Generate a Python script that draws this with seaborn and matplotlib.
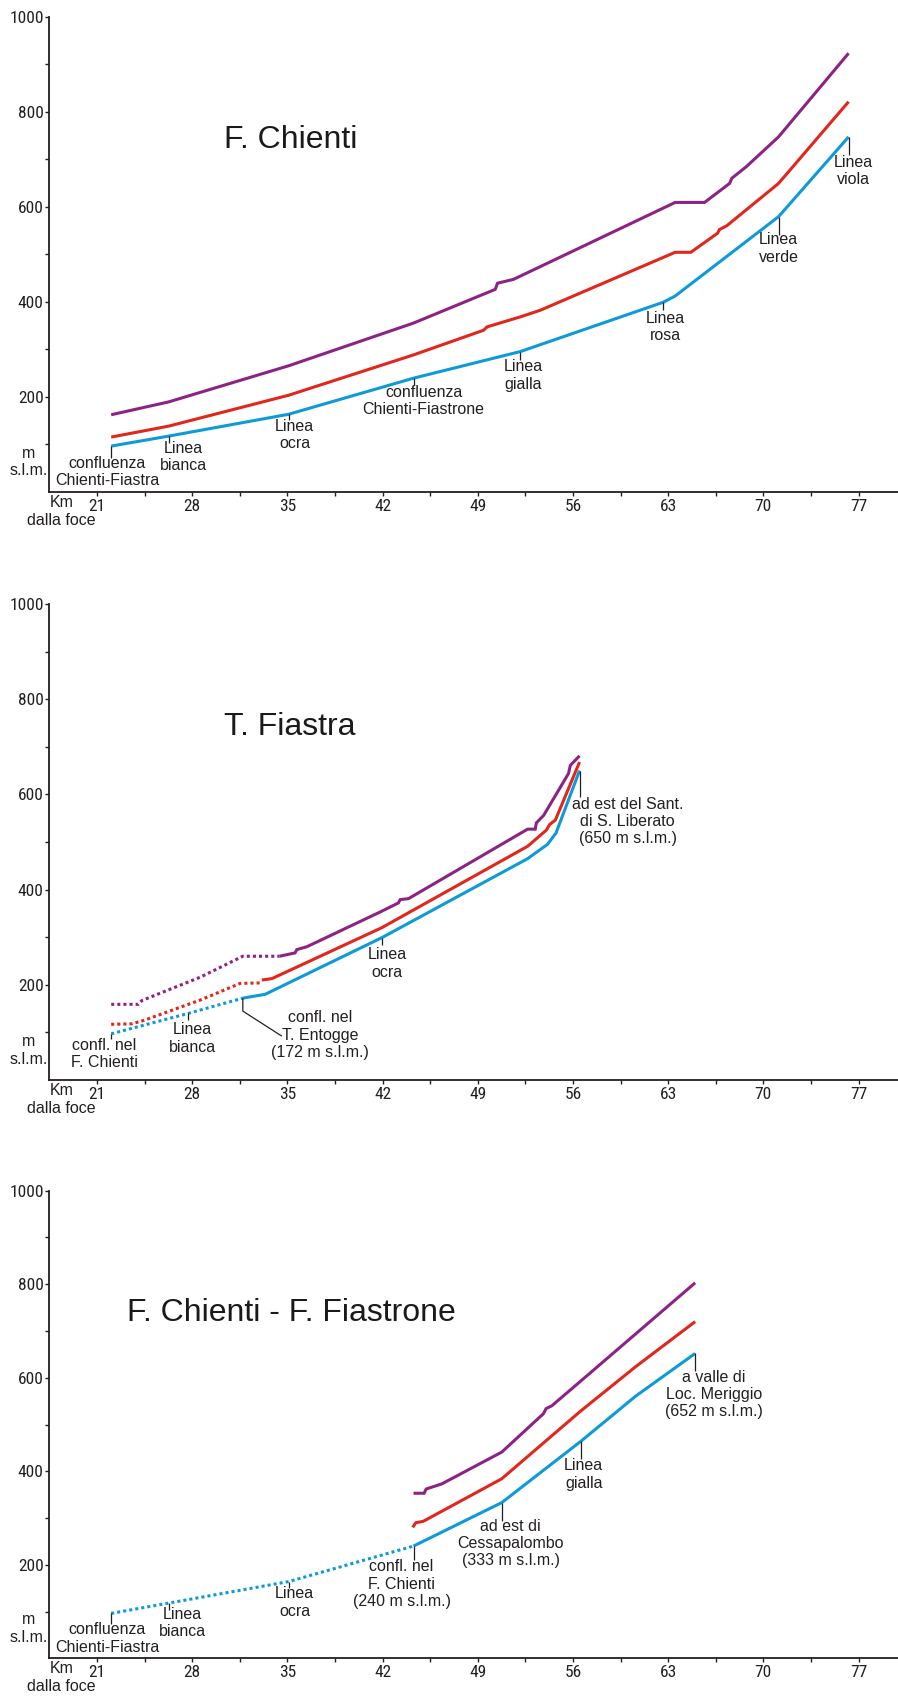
import numpy as np
import matplotlib
matplotlib.use("Agg")
import matplotlib.pyplot as plt
import seaborn as sns
from matplotlib import font_manager

# ---------------- dati ----------------
# km dalla foce / quota (m s.l.m.)
# F. Chienti
ch_viola_x = [22.05, 26.27, 35.09, 44.28, 50.29, 50.46, 51.63, 63.52, 65.68, 67.52, 67.69, 68.74, 71.12, 76.27]
ch_viola_y = [162, 189, 265, 355, 426, 439, 447, 609, 609, 649, 660, 684, 747, 923]
ch_rosso_x = [22.05, 26.27, 35.09, 44.28, 49.44, 49.69, 52.13, 53.6, 63.52, 64.67, 66.63, 66.78, 67.32, 71.12, 76.27]
ch_rosso_y = [115, 138, 203, 288, 340, 347, 368, 382, 504, 504, 544, 552, 560, 649, 821]
ch_blu_x = [22.05, 26.27, 35.09, 44.28, 52.13, 62.66, 63.52, 71.12, 76.27]
ch_blu_y = [96, 117, 163, 239, 295, 399, 412, 579, 747]

# T. Fiastra (tratto punteggiato + tratto continuo)
fi_viola_dot_x = [22.05, 24.06, 24.31, 28.6, 31.73, 34.43]
fi_viola_dot_y = [159, 159, 167, 216, 260, 260]
fi_viola_x = [34.43, 35.57, 35.7, 36.44, 41.83, 43.17, 43.3, 43.91, 52.67, 53.23, 53.31, 53.85, 55.68, 55.81, 56.49]
fi_viola_y = [260, 267, 274, 280, 353, 372, 379, 381, 527, 527, 540, 556, 644, 661, 681]
fi_rosso_dot_x = [22.05, 23.57, 24.43, 28.6, 31.54, 33.13]
fi_rosso_dot_y = [117, 118, 125, 168, 203, 204]
fi_rosso_x = [33.13, 33.87, 41.95, 52.67, 54.05, 54.3, 54.71, 56.49]
fi_rosso_y = [210, 213, 320, 491, 525, 537, 546, 668]
fi_blu_dot_x = [22.05, 27.73, 31.73]
fi_blu_dot_y = [97, 140, 172]
fi_blu_x = [31.73, 33.37, 41.95, 52.67, 54.13, 54.76, 56.49]
fi_blu_y = [172, 180, 299, 465, 495, 519, 650]

# F. Chienti - F. Fiastrone
fs_viola_x = [44.28, 45.06, 45.21, 46.36, 50.77, 53.83, 54.03, 54.45, 56.58, 64.99]
fs_viola_y = [353, 353, 362, 373, 441, 523, 534, 540, 593, 803]
fs_rosso_x = [44.22, 44.45, 45.0, 50.77, 56.58, 60.63, 64.99]
fs_rosso_y = [280, 290, 293, 384, 529, 624, 720]
fs_blu_dot_x = [22.05, 26.27, 35.09, 44.28]
fs_blu_dot_y = [96, 118, 164, 240]
fs_blu_x = [44.28, 50.77, 56.58, 60.63, 64.99]
fs_blu_y = [240, 333, 464, 561, 652]

titoli = ["F. Chienti", "T. Fiastra", "F. Chienti - F. Fiastrone"]

ch_note = ["confluenza\nChienti-Fiastra", "Linea\nbianca", "Linea\nocra", "confluenza\nChienti-Fiastrone",
           "Linea\ngialla", "Linea\nrosa", "Linea\nverde", "Linea\nviola"]
ch_note_km = [22.05, 26.27, 35.09, 44.28, 52.13, 62.66, 71.12, 76.27]
fi_note = ["confl. nel\nF. Chienti", "Linea\nbianca", "confl. nel\nT. Entogge\n(172 m s.l.m.)", "Linea\nocra",
           "ad est del Sant.\ndi S. Liberato\n(650 m s.l.m.)"]
fi_note_km = [22.05, 27.73, 31.73, 41.95, 56.49]
fs_note = ["confluenza\nChienti-Fiastra", "Linea\nbianca", "Linea\nocra", "confl. nel\nF. Chienti\n(240 m s.l.m.)",
           "ad est di\nCessapalombo\n(333 m s.l.m.)", "Linea\ngialla", "a valle di\nLoc. Meriggio\n(652 m s.l.m.)"]
fs_note_km = [22.05, 26.27, 35.09, 44.28, 50.77, 56.58, 64.99]

km_ticks = [21, 28, 35, 42, 49, 56, 63, 70, 77]
quota_ticks = [200, 400, 600, 800, 1000]

# ---------------- impaginazione ----------------
W, H = 898, 1701
VIOLA, ROSSO, BLU = "#8c2384", "#e1261c", "#0e9ad7"
NERO = "#231f20"
FS = 11.5
# (offset x, offset y sotto il punto, lunghezza del tratto) in pixel
ch_off = [(-4, 26, 12), (15, 21, 7), (6, 21, 6), (10, 23, 7), (3, 24, 8), (2, 25, 8), (0, 32, 18), (5, 34, 18)]
fi_off = [(-7, 20, 5), (4, 25, 7), (77, 37, None), (5, 26, 7), (48, 51, 26)]
fs_off = [(-4, 25, 11), (14, 20, 7), (6, 21, 6), (-12, 38, 14), (9, 41, 18), (3, 33, 18), (19, 41, 18)]

sns.set_style("white")
names = {f.name for f in font_manager.fontManager.ttflist}
tick_font, tick_size = "Liberation Sans", 11.5
for cand in ["Liberation Sans Narrow", "Roboto Condensed", "Open Sans Condensed"]:
    if cand in names:
        tick_font, tick_size = cand, 12.5
        break
plt.rcParams["font.family"] = ["Liberation Sans", "DejaVu Sans"]

fig = plt.figure(figsize=(W / 100, H / 100), dpi=100)

pannelli = [
    (16.7, 491.7, 140, 224,
     [(ch_viola_x, ch_viola_y, VIOLA, False), (ch_rosso_x, ch_rosso_y, ROSSO, False), (ch_blu_x, ch_blu_y, BLU, False)],
     ch_blu_x, ch_blu_y, ch_note, ch_note_km, ch_off),
    (604, 1080, 727, 224,
     [(fi_viola_dot_x, fi_viola_dot_y, VIOLA, True), (fi_viola_x, fi_viola_y, VIOLA, False),
      (fi_rosso_dot_x, fi_rosso_dot_y, ROSSO, True), (fi_rosso_x, fi_rosso_y, ROSSO, False),
      (fi_blu_dot_x, fi_blu_dot_y, BLU, True), (fi_blu_x, fi_blu_y, BLU, False)],
     fi_blu_dot_x + fi_blu_x, fi_blu_dot_y + fi_blu_y, fi_note, fi_note_km, fi_off),
    (1190.7, 1658.3, 1313, 127,
     [(fs_viola_x, fs_viola_y, VIOLA, False), (fs_rosso_x, fs_rosso_y, ROSSO, False),
      (fs_blu_dot_x, fs_blu_dot_y, BLU, True), (fs_blu_x, fs_blu_y, BLU, False)],
     fs_blu_dot_x + fs_blu_x, fs_blu_dot_y + fs_blu_y, fs_note, fs_note_km, fs_off),
]

left = 49.3
for i, (top, bottom, ty, tx, linee, bx, by, note, note_km, offs) in enumerate(pannelli):
    ax = fig.add_axes([left / W, 1 - bottom / H, (W - left) / W, (bottom - top) / H])
    for x, y, c, dotted in linee:
        sns.lineplot(x=x, y=y, ax=ax, color=c, lw=2.2, sort=False, estimator=None,
                     linestyle=(0, (1, 1)) if dotted else "-",
                     solid_joinstyle="miter", solid_capstyle="butt", dash_capstyle="butt")
    ax.set_xlim(17.5, 17.5 + (W - left) / 95.2 * 7)
    ax.set_ylim(0, 1000)
    sns.despine(ax=ax)
    for s in ("left", "bottom"):
        ax.spines[s].set_linewidth(1.3)
        ax.spines[s].set_color(NERO)
    ax.set_xticks(km_ticks)
    ax.set_xticks(np.arange(24.5, 80, 7), minor=True)
    ax.set_yticks(quota_ticks)
    ax.set_yticks([100, 300, 500, 700, 900], minor=True)
    ax.tick_params(which="both", direction="out", length=3, width=1, color=NERO,
                   labelsize=tick_size, labelcolor=NERO, pad=1)
    ax.tick_params(axis="x", which="both", bottom=True, pad=2)
    ax.tick_params(axis="y", which="both", left=True)
    for lab in ax.get_xticklabels() + ax.get_yticklabels():
        lab.set_fontfamily(tick_font)
    ax.set_xlabel("")
    ax.set_ylabel("")

    # titolo e unita
    fig.text(tx / W, 1 - ty / H, titoli[i], fontsize=23, color="#1a1a1a", ha="left", va="center")
    fig.text(28.3 / W, 1 - (bottom - 29.7) / H, "m\ns.l.m.", fontsize=FS, color=NERO,
             ha="center", va="center", multialignment="center")
    fig.text(61.3 / W, 1 - (bottom + 10.5) / H, "Km", fontsize=FS, color=NERO, ha="center", va="center")
    fig.text(61.7 / W, 1 - (bottom + 28.5) / H, "dalla foce", fontsize=FS, color=NERO,
             ha="center", va="center")

    # note con tratti di richiamo
    fig.canvas.draw()
    inv = ax.transData.inverted()
    for testo, km, (dx, dy, lead) in zip(note, note_km, offs):
        q = np.interp(km, bx, by)
        p = ax.transData.transform((km, q))
        if lead is None:
            pts = [p, p + [0, -13], p + [39, -38]]
        else:
            pts = [p, p + [0, -lead]]
        pts = inv.transform(np.array(pts))
        ax.plot(pts[:, 0], pts[:, 1], color=NERO, lw=0.9, solid_capstyle="butt")
        t = inv.transform(p + [dx, -dy])
        ax.text(t[0], t[1], testo, fontsize=FS, color=NERO, ha="center", va="center",
                multialignment="center")

fig.savefig("out.png", dpi=100, facecolor="white")
